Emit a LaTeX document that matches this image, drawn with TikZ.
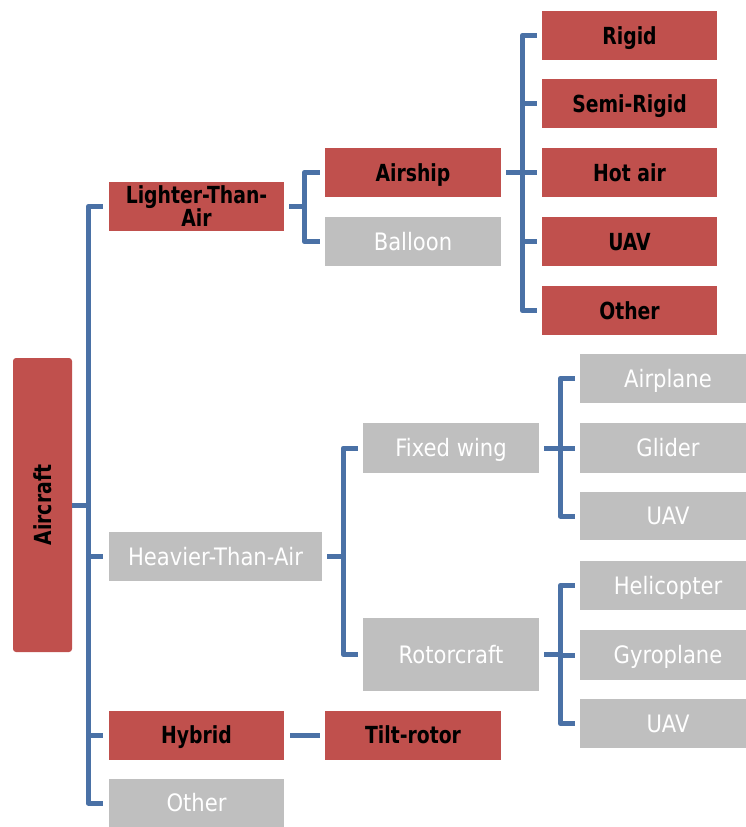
\documentclass[tikz,border=0pt]{standalone}
\usepackage{fontspec}
\setmainfont{DejaVu Sans}[FakeStretch=0.88, BoldFeatures={FakeStretch=0.8}]
\definecolor{boxred}{HTML}{C0504D}
\definecolor{boxgray}{HTML}{BFBFBF}
\definecolor{linkblue}{HTML}{4A71A6}
\tikzset{
  rbox/.style={fill=boxred, text=black, inner sep=0pt, align=center,
    font=\bfseries\fontsize{23.5}{23}\selectfont, minimum width=175pt, minimum height=49pt},
  gbox/.style={fill=boxgray, text=white, inner sep=0pt, align=center,
    font=\fontsize{24}{26}\selectfont, minimum width=176pt, minimum height=49pt},
  capfix/.style={text height=17pt, text depth=0pt},
  conn/.style={draw=linkblue, line width=5pt, line join=round, line cap=butt},
}
\begin{document}
\begin{tikzpicture}[x=1pt,y=-1pt]
\useasboundingbox (0,0) rectangle (745,827);
% level 0
\node[rbox, minimum width=59pt, minimum height=294pt, rounded corners=3pt] (aircraft) at (42.5,505) {};
\node[rotate=90, font=\bfseries\fontsize{23.5}{23}\selectfont, text=black, capfix] (aircraftlabel) at (aircraft.center) {Aircraft};
% level 1
\node[rbox] (lta) at (196.5,206.5) {Lighter-Than-\\Air};
\node[gbox, capfix, minimum width=213pt] (hta) at (215.5,556.5) {Heavier-Than-Air};
\node[rbox, capfix] (hybrid) at (196.5,735) {Hybrid};
\node[gbox, capfix, minimum width=175pt, minimum height=48pt] (other1) at (196.5,803) {Other};
% level 2
\node[rbox, capfix, minimum width=176pt] (airship) at (413,172.5) {Airship};
\node[gbox, capfix] (balloon) at (413,241.5) {Balloon};
\node[rbox, capfix, minimum width=176pt] (tilt) at (413,735) {Tilt-rotor};
\node[gbox, capfix, minimum height=50pt] (fixed) at (451,448) {Fixed wing};
\node[gbox, capfix, minimum height=73pt] (rotor) at (451,654.5) {Rotorcraft};
% level 3 airship
\node[rbox, capfix] (rigid) at (629.5,35.5) {Rigid};
\node[rbox, capfix] (semi) at (629.5,103.5) {Semi-Rigid};
\node[rbox, capfix] (hotair) at (629.5,172.5) {Hot air};
\node[rbox, capfix] (uav1) at (629.5,241.5) {UAV};
\node[rbox, capfix] (other2) at (629.5,310.5) {Other};
% level 3 fixed wing
\node[gbox, capfix] (airplane) at (668,378.5) {Airplane};
\node[gbox, capfix, minimum height=50pt] (glider) at (668,448) {Glider};
\node[gbox, capfix, minimum height=48pt] (uav2) at (668,516) {UAV};
% level 3 rotorcraft
\node[gbox, capfix] (heli) at (668,585.5) {Helicopter};
\node[gbox, capfix, minimum height=50pt] (gyro) at (668,655) {Gyroplane};
\node[gbox, capfix] (uav3) at (668,723.5) {UAV};
% connectors from Aircraft
\foreach \c in {lta,hta,hybrid,other1}
  \draw[conn] (aircraft.east) -- ++(16,0) |- ([xshift=-6pt]\c.west);
% from Lighter-Than-Air
\foreach \c in {airship,balloon}
  \draw[conn] ([xshift=5pt]lta.east) -- ++(15,0) |- ([xshift=-5pt]\c.west);
% from Airship
\foreach \c in {rigid,semi,hotair,uav1,other2}
  \draw[conn] ([xshift=5pt]airship.east) -- ++(16,0) |- ([xshift=-5pt]\c.west);
% from Heavier-Than-Air
\foreach \c in {fixed,rotor}
  \draw[conn] ([xshift=5pt]hta.east) -- ++(16,0) |- ([xshift=-5pt]\c.west);
% from Fixed wing
\foreach \c in {airplane,glider,uav2}
  \draw[conn] ([xshift=5pt]fixed.east) -- ++(16,0) |- ([xshift=-5pt]\c.west);
% from Rotorcraft
\foreach \c in {heli,gyro,uav3}
  \draw[conn] ([xshift=5pt]rotor.east) -- ++(16,0) |- ([xshift=-5pt]\c.west);
% Hybrid to Tilt-rotor
\draw[conn] ([xshift=6pt]hybrid.east) -- ([xshift=-5pt]tilt.west);
\end{tikzpicture}
\end{document}
